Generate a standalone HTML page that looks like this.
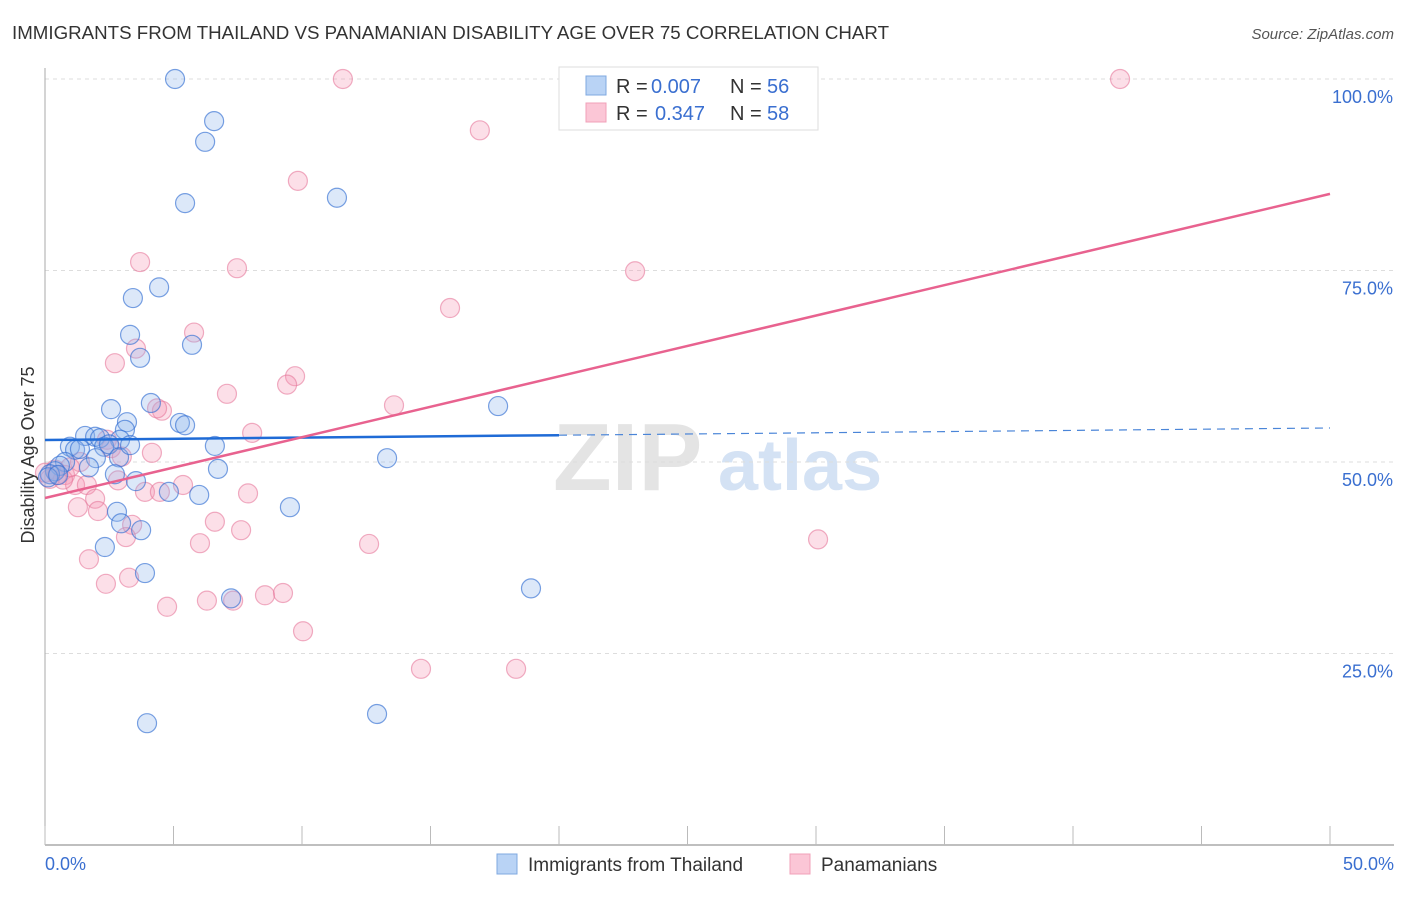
<!DOCTYPE html>
<html><head><meta charset="utf-8"><style>
body{margin:0;background:#fff;font-family:"Liberation Sans",sans-serif}
svg text{font-family:"Liberation Sans",sans-serif}
</style></head><body>
<svg id="chart" width="1406" height="892">
<text x="12" y="39" font-size="18" fill="#333" textLength="877" lengthAdjust="spacingAndGlyphs">IMMIGRANTS FROM THAILAND VS PANAMANIAN DISABILITY AGE OVER 75 CORRELATION CHART</text>
<text x="1394" y="39" font-size="15" fill="#555" font-style="italic" text-anchor="end">Source: ZipAtlas.com</text>
<g><text x="553" y="490" font-size="96" font-family="Liberation Serif" fill="#e4e4e4" font-weight="bold">ZIP</text><text x="718" y="490" font-size="72" fill="#d4e2f4" font-weight="bold">atlas</text></g>
<g id="grid"></g><g id="axes"></g><g id="pts"></g><g id="lines"></g>
<text transform="translate(34,455) rotate(-90)" font-size="18" fill="#333" text-anchor="middle">Disability Age Over 75</text>
<g>
<rect x="559" y="67" width="259" height="63" fill="#fff" stroke="#ddd"/>
<rect x="586" y="76" width="20" height="19" fill="#b9d3f5" stroke="#7fa8e0"/>
<rect x="586" y="103" width="20" height="19" fill="#fbc6d6" stroke="#f0a0b8"/>
<text x="616" y="93" font-size="20" fill="#333">R =</text>
<text x="651" y="93" font-size="20" fill="#3a6fd0">0.007</text>
<text x="730" y="93" font-size="20" fill="#333">N =</text>
<text x="767" y="93" font-size="20" fill="#3a6fd0">56</text>
<text x="616" y="120" font-size="20" fill="#333">R =</text>
<text x="655" y="120" font-size="20" fill="#3a6fd0">0.347</text>
<text x="730" y="120" font-size="20" fill="#333">N =</text>
<text x="767" y="120" font-size="20" fill="#3a6fd0">58</text>
</g>
<g>
<rect x="497" y="854" width="20" height="20" fill="#b9d3f5" stroke="#7fa8e0"/>
<text x="528" y="871" font-size="19" fill="#333">Immigrants from Thailand</text>
<rect x="790" y="854" width="20" height="20" fill="#fbc6d6" stroke="#f0a0b8"/>
<text x="821" y="871" font-size="19" fill="#333">Panamanians</text>
</g>
</svg>
<script>
const xTicks=[0,5,10,15,20,25,30,35,40,45,50];
const xTickLabels=["0.0%","50.0%"];
const yTicks=[25,50,75,100];
const yTickLabels=["25.0%","50.0%","75.0%","100.0%"];
const blueX=[5.06,6.58,6.23,5.45,11.36,4.44,3.42,3.31,5.72,3.70,4.12,2.57,17.63,3.19,5.25,5.45,3.11,1.56,1.95,2.14,2.92,0.97,1.17,1.36,2.30,2.49,6.61,1.98,2.88,13.31,0.78,0.58,0.39,0.19,6.73,2.72,3.54,4.82,6.00,9.53,2.80,2.96,3.74,2.33,3.89,18.91,7.24,3.97,12.92,0.12,0.51,1.71,3.31];
const blueY=[100,94.5,91.8,83.8,84.5,72.8,71.4,66.6,65.3,63.6,57.7,56.9,57.3,55.2,55.1,54.8,54.2,53.4,53.3,53.1,52.9,52.0,51.6,51.7,52.0,52.3,52.1,50.5,50.6,50.5,50.0,49.5,48.8,48.4,49.1,48.4,47.5,46.1,45.7,44.1,43.5,42.0,41.1,38.9,35.5,33.5,32.2,15.9,17.1,48.0,48.3,49.3,52.2];
const pinkX=[11.59,41.83,16.92,9.84,3.70,7.47,22.96,15.76,5.80,3.54,2.72,9.73,9.42,7.08,13.58,4.55,4.36,2.41,8.06,2.57,2.99,1.36,4.16,0.39,0.78,0,0.19,1.17,1.63,2.84,3.89,4.47,5.37,7.90,1.95,1.28,2.06,6.61,3.39,7.63,3.15,6.03,12.61,30.08,1.71,3.27,2.37,7.32,4.75,6.30,8.56,9.26,10.04,14.63,18.33,0.70,0.97,0.47];
const pinkY=[100,100,93.3,86.7,76.1,75.3,74.9,70.1,66.9,64.8,62.9,61.2,60.1,58.9,57.4,56.7,57.0,52.9,53.8,51.8,50.7,50.0,51.2,49.0,48.3,48.6,47.8,47.0,47.0,47.6,46.1,46.1,47.0,45.9,45.2,44.1,43.6,42.2,41.8,41.1,40.2,39.4,39.3,39.9,37.3,34.9,34.1,31.9,31.1,31.9,32.6,32.9,27.9,23.0,23.0,47.7,49.3,48.3];
const blueFit=[52.87,54.44];
const pinkFit=[45.3,85.0];
const NS="http://www.w3.org/2000/svg";
const sx=v=>45+v/50*1285, sy=v=>845-v/100*766;
function mk(t,a,p){const e=document.createElementNS(NS,t);for(const k in a)e.setAttribute(k,a[k]);p.appendChild(e);return e;}
const grid=document.getElementById('grid'),axes=document.getElementById('axes'),pts=document.getElementById('pts'),lines=document.getElementById('lines');
yTicks.forEach((v,i)=>{const l=mk('line',{x1:45,x2:1394,y1:sy(v),y2:sy(v),stroke:'#ddd','stroke-dasharray':'4,4'},grid);


const t=mk('text',{x:1393,y:sy(v)+24,'font-size':18,fill:'#3a6fd0','text-anchor':'end'},axes);t.textContent=yTickLabels[i];

});
const ax=mk('line',{x1:45,x2:1394,y1:845,y2:845,stroke:'#aaa','stroke-width':1.5},axes);


const ay=mk('line',{x1:45,x2:45,y1:68,y2:845,stroke:'#aaa','stroke-width':1},axes);


xTicks.forEach(v=>{const l=mk('line',{x1:sx(v),x2:sx(v),y1:826,y2:845,stroke:'#bbb'},axes);

});
const t0=mk('text',{x:45,y:870,'font-size':18,fill:'#3a6fd0'},axes);t0.textContent=xTickLabels[0];


const t1=mk('text',{x:1394,y:870,'font-size':18,fill:'#3a6fd0','text-anchor':'end'},axes);t1.textContent=xTickLabels[1];


pinkX.forEach((x,i)=>{const c=mk('circle',{cx:sx(x),cy:sy(pinkY[i]),r:9.5,fill:'rgba(245,150,180,0.3)',stroke:'rgba(230,120,155,0.6)','stroke-width':1.2},pts);

});
blueX.forEach((x,i)=>{const c=mk('circle',{cx:sx(x),cy:sy(blueY[i]),r:9.5,fill:'rgba(140,180,235,0.3)',stroke:'rgba(50,110,210,0.65)','stroke-width':1.2},pts);

});
const bAt=x=>blueFit[0]+(blueFit[1]-blueFit[0])*x/50;
const bl=mk('line',{x1:sx(0),y1:sy(bAt(0)),x2:sx(20),y2:sy(bAt(20)),stroke:'#1f6bd6','stroke-width':2.5},lines);


const bd=mk('line',{x1:sx(20),y1:sy(bAt(20)),x2:sx(50),y2:sy(bAt(50)),stroke:'#4a85d8','stroke-width':1.2,'stroke-dasharray':'8,6'},lines);


const pl=mk('line',{x1:sx(0),y1:sy(pinkFit[0]),x2:sx(50),y2:sy(pinkFit[1]),stroke:'#e8628f','stroke-width':2.5},lines);


</script>
</body></html>
